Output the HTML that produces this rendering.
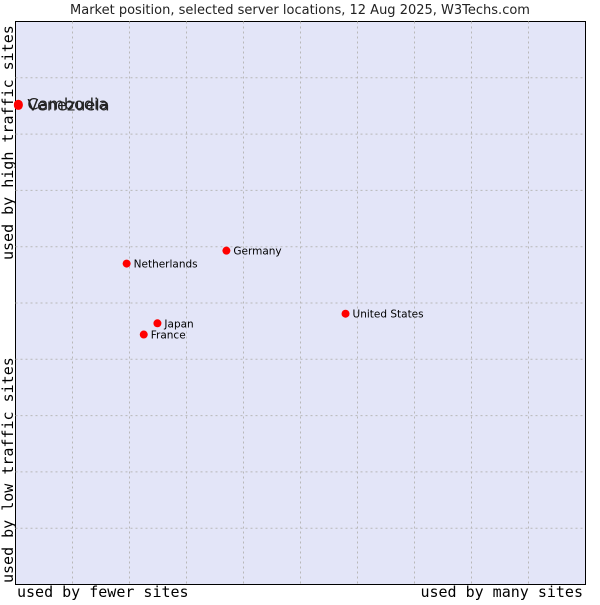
<!DOCTYPE html>
<html><head><meta charset="utf-8"><style>
body{margin:0;background:#fff;width:600px;height:600px;overflow:hidden}
</style></head><body>
<svg id="chart" width="600" height="600" xmlns="http://www.w3.org/2000/svg">
<text x="300" y="14" text-anchor="middle" font-family="DejaVu Sans, sans-serif" font-size="13" fill="#222">Market position, selected server locations, 12 Aug 2025, W3Techs.com</text>
<rect x="15.5" y="21.5" width="570" height="563" fill="#e3e5f8" stroke="#000" stroke-width="1"/>
<g id="grid"></g>
<g id="points"></g>
<text x="17" y="597" font-family="DejaVu Sans Mono, Liberation Mono, monospace" font-size="15" fill="#000">used by fewer sites</text>
<text x="583" y="597" text-anchor="end" font-family="DejaVu Sans Mono, Liberation Mono, monospace" font-size="15" fill="#000">used by many sites</text>
<text transform="translate(13,583) rotate(-90)" font-family="DejaVu Sans Mono, Liberation Mono, monospace" font-size="15" fill="#000">used by low traffic sites</text>
<text transform="translate(13,260) rotate(-90)" font-family="DejaVu Sans Mono, Liberation Mono, monospace" font-size="15" fill="#000">used by high traffic sites</text>
</svg>
<script>
const countries = ["Venezuela","Cambodia","Netherlands","Germany","Japan","France","United States"];
const xValues = [0.5,0.5,19.5,37.0,24.9,22.5,57.9];
const yValues = [85.1,85.3,57.0,59.3,46.4,44.4,48.1];
const labelSizes = [16,16,10.5,10.5,10.5,10.5,10.5];
const NS="http://www.w3.org/2000/svg";
const L=15.5,T=21.5,W=570,H=563;
const xs=v=>L+v/100*W, ys=v=>T+H-v/100*H;
const grid=document.getElementById('grid');
for(let i=1;i<10;i++){
  const v=document.createElementNS(NS,'line');
  v.setAttribute('x1',xs(i*10));v.setAttribute('x2',xs(i*10));v.setAttribute('y1',T);v.setAttribute('y2',T+H);
  v.setAttribute('stroke','#b8b8b8');v.setAttribute('stroke-dasharray','2,3');
  
  
  grid.appendChild(v);
  const h=document.createElementNS(NS,'line');
  h.setAttribute('y1',ys(i*10));h.setAttribute('y2',ys(i*10));h.setAttribute('x1',L);h.setAttribute('x2',L+W);
  h.setAttribute('stroke','#b8b8b8');h.setAttribute('stroke-dasharray','2,3');
  
  
  grid.appendChild(h);
}
const pts=document.getElementById('points');
countries.forEach((c,i)=>{
  const x=xs(xValues[i]),y=ys(yValues[i]);
  const big=labelSizes[i]>12;
  const p=document.createElementNS(NS,'circle');
  p.setAttribute('cx',x);p.setAttribute('cy',y);p.setAttribute('r',big?4.5:4);p.setAttribute('fill','#f00');
  
  
  pts.appendChild(p);
  const t=document.createElementNS(NS,'text');
  t.setAttribute('x',x+(big?9:7));t.setAttribute('y',y+(big?5:4));
  t.setAttribute('font-family','DejaVu Sans, sans-serif');t.setAttribute('font-size',labelSizes[i]);
  t.setAttribute('fill',big?'#222':'#000');
  t.textContent=c;
  
  
  pts.appendChild(t);
});
</script>
</body></html>
